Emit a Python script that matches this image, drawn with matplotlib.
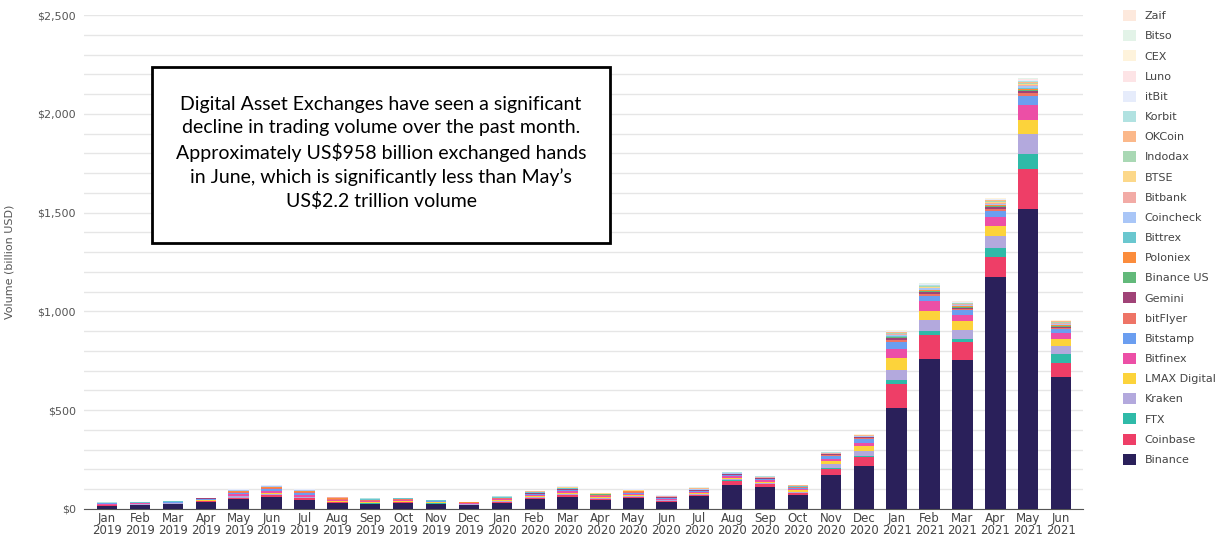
import numpy as np
import matplotlib.pyplot as plt
from matplotlib.patches import Rectangle, Patch
from matplotlib.ticker import FuncFormatter, MultipleLocator

months = ['Jan\n2019', 'Feb\n2019', 'Mar\n2019', 'Apr\n2019', 'May\n2019', 'Jun\n2019',
          'Jul\n2019', 'Aug\n2019', 'Sep\n2019', 'Oct\n2019', 'Nov\n2019', 'Dec\n2019',
          'Jan\n2020', 'Feb\n2020', 'Mar\n2020', 'Apr\n2020', 'May\n2020', 'Jun\n2020',
          'Jul\n2020', 'Aug\n2020', 'Sep\n2020', 'Oct\n2020', 'Nov\n2020', 'Dec\n2020',
          'Jan\n2021', 'Feb\n2021', 'Mar\n2021', 'Apr\n2021', 'May\n2021', 'Jun\n2021']

# volumes in billion USD, stacked bottom -> top
binance = [17, 20, 25, 35, 49, 61, 46, 30, 24, 30, 24, 19,
           32, 49, 61, 46, 54, 37, 66, 120, 113, 72, 170, 218,
           511, 761, 756, 1176, 1517, 668]
coinbase = [3, 2, 2, 4, 9, 10, 8, 3, 3, 3, 3, 2,
            4, 6, 9, 5, 6, 4, 5, 23, 12, 8, 32, 45,
            120, 120, 87, 98, 202, 71]
ftx = [0, 0, 0, 0, 0, 0, 0, 0, 1, 1, 1, 1,
       1, 1, 2, 1, 1, 1, 1, 2, 2, 2, 4, 5,
       20, 18, 17, 45, 78, 44]
kraken = [2, 3, 2, 3, 6, 7, 7, 4, 3, 3, 2, 2,
          4, 5, 6, 4, 5, 3, 4, 8, 6, 5, 20, 24,
          51, 57, 46, 64, 101, 42]
lmax = [0, 0, 0, 1, 2, 3, 2, 3, 3, 3, 3, 2,
        3, 4, 4, 3, 4, 3, 4, 6, 6, 10, 17, 28,
        61, 48, 44, 51, 71, 35]
bitfinex = [5, 3, 3, 5, 10, 12, 10, 5, 5, 5, 3, 3,
            5, 5, 7, 5, 6, 4, 5, 6, 6, 5, 10, 14,
            47, 47, 32, 42, 76, 32]
bitstamp = [2, 2, 2, 3, 6, 6, 6, 3, 3, 3, 2, 2,
            3, 4, 5, 4, 4, 3, 4, 6, 5, 4, 17, 20,
            37, 27, 25, 32, 45, 19]
bitflyer = [1, 1, 1, 2, 4, 5, 5, 3, 2, 2, 1, 1,
            3, 4, 4, 3, 4, 3, 3, 3, 3, 3, 4, 5,
            9, 10, 7, 10, 13, 6]
gemini = [0, 0, 1, 1, 2, 3, 3, 2, 2, 1, 1, 0,
          1, 2, 2, 2, 2, 1, 2, 2, 2, 2, 2, 3,
          7, 8, 5, 8, 10, 5]
binance_us = [0, 0, 0, 0, 0, 0, 0, 0, 1, 1, 1, 0,
              1, 1, 1, 1, 1, 1, 1, 1, 1, 1, 1, 2,
              5, 6, 4, 6, 9, 5]
poloniex = [1, 1, 1, 1, 3, 3, 3, 2, 1, 1, 1, 1,
            1, 2, 2, 1, 2, 1, 2, 1, 1, 1, 1, 1,
            4, 4, 3, 4, 6, 3]
bittrex = [1, 1, 1, 1, 2, 2, 2, 2, 1, 1, 1, 0,
           1, 1, 1, 1, 1, 1, 1, 1, 1, 1, 1, 1,
           4, 4, 3, 4, 5, 3]
coincheck = [0, 0, 0, 1, 1, 2, 2, 1, 1, 1, 1, 0,
             1, 1, 2, 1, 2, 1, 2, 1, 1, 1, 1, 2,
             5, 6, 4, 6, 7, 3]
bitbank = [0, 0, 0, 0, 1, 1, 1, 1, 1, 1, 0, 0,
           1, 1, 2, 1, 1, 1, 1, 1, 1, 1, 1, 1,
           4, 4, 3, 5, 6, 3]
btse = [0, 0, 0, 0, 0, 0, 0, 0, 0, 0, 0, 0,
        0, 1, 1, 1, 1, 1, 1, 1, 1, 1, 1, 1,
        3, 3, 2, 3, 5, 3]
indodax = [0, 0, 0, 0, 1, 1, 1, 1, 1, 0, 0, 0,
           1, 1, 1, 1, 1, 1, 1, 1, 1, 1, 1, 1,
           3, 3, 2, 4, 5, 3]
okcoin = [0, 0, 0, 0, 1, 1, 1, 1, 1, 1, 1, 1,
          1, 1, 2, 1, 2, 1, 1, 1, 2, 1, 2, 2,
          4, 5, 3, 5, 7, 4]
korbit = [1, 1, 1, 1, 1, 1, 1, 1, 1, 1, 1, 0,
          1, 1, 1, 1, 1, 1, 1, 1, 1, 1, 1, 1,
          3, 3, 2, 3, 5, 2]
itbit = [0, 0, 0, 0, 1, 1, 1, 0, 0, 0, 0, 0,
         1, 1, 1, 1, 1, 1, 1, 0, 1, 0, 1, 1,
         3, 3, 2, 3, 4, 1]
luno = [0, 0, 0, 0, 1, 1, 1, 0, 0, 0, 0, 0,
        0, 1, 1, 0, 1, 0, 1, 0, 0, 0, 0, 1,
        2, 2, 1, 2, 3, 1]
cex = [0, 0, 0, 0, 0, 0, 0, 0, 0, 0, 0, 0,
       0, 0, 1, 0, 1, 0, 1, 0, 1, 1, 0, 1,
       2, 2, 1, 1, 2, 1]
bitso = [0, 0, 0, 0, 0, 0, 0, 0, 0, 0, 0, 0,
         0, 1, 1, 0, 1, 0, 1, 0, 1, 1, 0, 1,
         2, 2, 1, 2, 2, 1]
zaif = [0, 0, 0, 0, 0, 0, 0, 0, 0, 0, 0, 0,
        0, 0, 0, 0, 0, 0, 0, 0, 0, 0, 0, 0,
        1, 1, 1, 1, 2, 1]

series = [
    ('Binance', binance, '#2a205a'),
    ('Coinbase', coinbase, '#ee3e67'),
    ('FTX', ftx, '#2fbaa8'),
    ('Kraken', kraken, '#b3a9dd'),
    ('LMAX Digital', lmax, '#fcd33b'),
    ('Bitfinex', bitfinex, '#ec4fa6'),
    ('Bitstamp', bitstamp, '#6b9ef0'),
    ('bitFlyer', bitflyer, '#ee7466'),
    ('Gemini', gemini, '#a04377'),
    ('Binance US', binance_us, '#62b97a'),
    ('Poloniex', poloniex, '#fb8c3c'),
    ('Bittrex', bittrex, '#6ac7cf'),
    ('Coincheck', coincheck, '#a9c6f7'),
    ('Bitbank', bitbank, '#f2aba6'),
    ('BTSE', btse, '#fcd88a'),
    ('Indodax', indodax, '#a9d8b4'),
    ('OKCoin', okcoin, '#fbb88a'),
    ('Korbit', korbit, '#b1e2e1'),
    ('itBit', itbit, '#e6ecfb'),
    ('Luno', luno, '#fde4e6'),
    ('CEX', cex, '#fef3dc'),
    ('Bitso', bitso, '#e3f3e8'),
    ('Zaif', zaif, '#fde9dd'),
]

fig = plt.figure(figsize=(12.26, 5.36), dpi=100)
ax = fig.add_axes([0.0685, 0.0504, 0.8145, 0.9216])

x = np.arange(len(months))
bottom = np.zeros(len(months))
for name, vals, col in series:
    ax.bar(x, vals, width=0.62, bottom=bottom, color=col, linewidth=0, zorder=3)
    bottom += np.array(vals)

ax.set_ylim(0, 2500)
ax.set_xlim(-0.7, 29.65)
ax.yaxis.set_major_locator(MultipleLocator(500))
ax.yaxis.set_minor_locator(MultipleLocator(100))
ax.yaxis.set_major_formatter(FuncFormatter(lambda v, p: '${:,.0f}'.format(v)))
ax.grid(axis='y', which='both', color='#e6e6e6', linewidth=1, zorder=0)
ax.tick_params(axis='y', which='both', length=0, labelsize=8, labelcolor='#555555', pad=6)
ax.set_xticks(x)
ax.set_xticklabels(months, fontsize=8.5, color='#444444', linespacing=0.95)
ax.tick_params(axis='x', length=0, pad=2)
for s in ['top', 'right', 'left']:
    ax.spines[s].set_visible(False)
ax.spines['bottom'].set_color('#555555')
ax.set_ylabel('Volume (billion USD)', fontsize=8, color='#555555', labelpad=16)

# annotation box
fig.patches.append(Rectangle((152 / 1226, 1 - 243 / 536), 458 / 1226, 176 / 536,
                             transform=fig.transFigure, fill=True, facecolor='white',
                             edgecolor='black', linewidth=2, zorder=5))
fig.text(381 / 1226, 1 - 153 / 536,
         'Digital Asset Exchanges have seen a significant\n'
         'decline in trading volume over the past month.\n'
         'Approximately US$958 billion exchanged hands\n'
         'in June, which is significantly less than May\u2019s\n'
         'US$2.2 trillion volume',
         ha='center', va='center', fontsize=14, family='Lato',
         linespacing=1.42, zorder=6)

handles = [Patch(facecolor=col, edgecolor='none') for name, vals, col in series][::-1]
labels = [name for name, vals, col in series][::-1]
fig.legend(handles, labels, loc='upper left', bbox_to_anchor=(1113 / 1226, 1.0),
           frameon=False, fontsize=8, handlelength=1.15, handleheight=1.15,
           handletextpad=0.8, labelspacing=0.80, labelcolor='#444444')

fig.savefig('out.png', dpi=100)
